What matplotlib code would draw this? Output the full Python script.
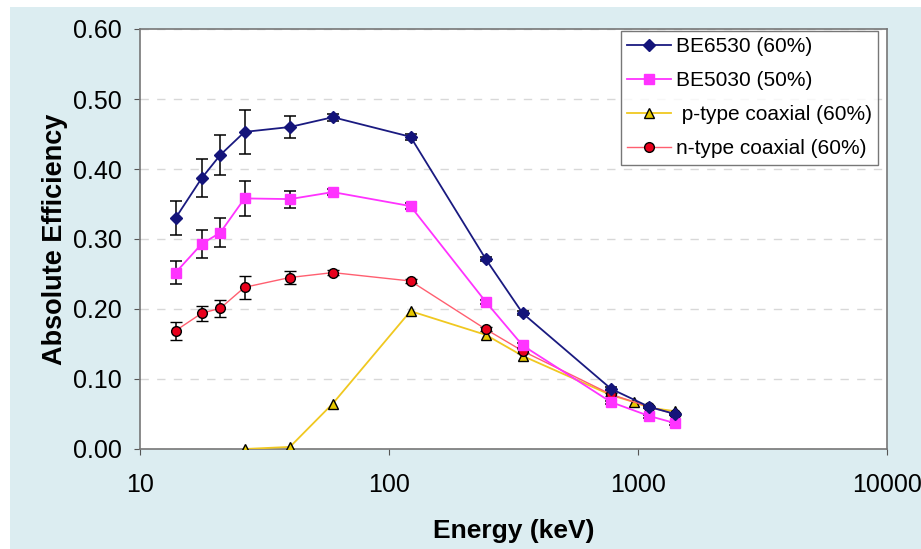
import numpy as np
import matplotlib.pyplot as plt
from matplotlib.patches import Rectangle
from matplotlib.lines import Line2D

plt.rcParams['font.family'] = ['Liberation Sans', 'DejaVu Sans']

# gamma energies (keV)
e_be6530 = [13.9, 17.7, 21.0, 26.3, 40.0, 59.5, 122, 245, 344, 779, 1112, 1408]
eff_be6530 = [0.330, 0.387, 0.420, 0.453, 0.460, 0.474, 0.446, 0.271, 0.194, 0.086, 0.060, 0.050]
err_be6530 = [0.024, 0.027, 0.029, 0.032, 0.016, 0.005, 0.004, 0.003, 0.003, 0.002, 0.002, 0.002]

e_be5030 = [13.9, 17.7, 21.0, 26.3, 40.0, 59.5, 122, 245, 344, 779, 1112, 1408]
eff_be5030 = [0.252, 0.293, 0.309, 0.358, 0.357, 0.367, 0.347, 0.210, 0.148, 0.067, 0.047, 0.037]
err_be5030 = [0.016, 0.020, 0.021, 0.025, 0.012, 0.004, 0.004, 0.003, 0.003, 0.002, 0.002, 0.002]

e_ptype = [26.3, 40.0, 59.5, 122, 245, 344, 779, 964, 1112, 1408]
eff_ptype = [0.000, 0.003, 0.065, 0.197, 0.163, 0.133, 0.077, 0.067, 0.059, 0.054]

e_ntype = [13.9, 17.7, 21.0, 26.3, 40.0, 59.5, 122, 245, 344, 779, 1112, 1408]
eff_ntype = [0.169, 0.194, 0.201, 0.231, 0.245, 0.252, 0.240, 0.171, 0.140, 0.078, 0.060, 0.050]
err_ntype = [0.013, 0.011, 0.012, 0.016, 0.009, 0.004, 0.003, 0.003, 0.003, 0.002, 0.002, 0.002]

labels = ['BE6530 (60%)', 'BE5030 (50%)', ' p-type coaxial (60%)', 'n-type coaxial (60%)']

fig = plt.figure(figsize=(9.21, 5.49), dpi=100, facecolor='white')
fig.patches.append(Rectangle((10 / 921, 0), 1, 1 - 7 / 549, transform=fig.transFigure,
                             facecolor='#dcedf1', edgecolor='none', zorder=-10))
ax = fig.add_axes([140 / 921, 1 - 449 / 549, 747 / 921, 420 / 549])
ax.set_facecolor('white')

s1 = dict(color='#1a1a80', lw=1.3, marker='D', ms=6, mfc='#14147a', mec='#14147a')
s2 = dict(color='#ff33ff', lw=1.3, marker='s', ms=7, mfc='#ff33ff', mec='#ff33ff')
s3 = dict(color='#f0c820', lw=1.3, marker='^', ms=7, mfc='#e6c800', mec='black', mew=1.0)
s4 = dict(color='#ff5f70', lw=1.0, marker='o', ms=7, mfc='#e8001c', mec='black', mew=1.0)

eb = dict(ecolor='black', elinewidth=1.1, capsize=4, capthick=1.1)
ax.errorbar(e_be6530, eff_be6530, yerr=err_be6530, zorder=5, **s1, **eb)
ax.errorbar(e_be5030, eff_be5030, yerr=err_be5030, zorder=4, **s2, **eb)
ax.plot(e_ptype, eff_ptype, zorder=3, **s3)
ax.errorbar(e_ntype, eff_ntype, yerr=err_ntype, zorder=3, **s4, **eb)

ax.set_xscale('log')
ax.set_xlim(10, 10000)
ax.set_ylim(0, 0.6)
ax.set_xticks([10, 100, 1000, 10000])
ax.set_xticklabels(['10', '100', '1000', '10000'])
ax.minorticks_off()
ax.set_yticks(np.arange(0, 0.61, 0.1))
ax.set_yticklabels(['%.2f' % v for v in np.arange(0, 0.61, 0.1)])
ax.tick_params(axis='both', labelsize=18, length=4, color='#555555')
ax.tick_params(axis='y', pad=9)
ax.tick_params(axis='x', pad=13)
ax.yaxis.grid(True, ls=(0, (6, 6)), color='#d8d8d8', lw=1)
ax.set_axisbelow(True)
for s in ax.spines.values():
    s.set_color('#777777')
    s.set_linewidth(1.2)

ax.set_xlabel('Energy (keV)', fontsize=19, fontweight='bold', labelpad=16)
ax.set_ylabel('Absolute Efficiency', fontsize=19.5, fontweight='bold', labelpad=4)

handles = [Line2D([], [], **s) for s in (s1, s2, s3, s4)]
leg = ax.legend(handles, labels, loc='upper right', bbox_to_anchor=(0.988, 0.995), fontsize=15,
                frameon=True, fancybox=False, handlelength=2.1, handletextpad=0.25,
                borderpad=0.3, labelspacing=0.72, borderaxespad=0)
leg.get_frame().set_edgecolor('#555555')
leg.get_frame().set_linewidth(1.0)

fig.savefig('out.png', dpi=100, facecolor=fig.get_facecolor())
